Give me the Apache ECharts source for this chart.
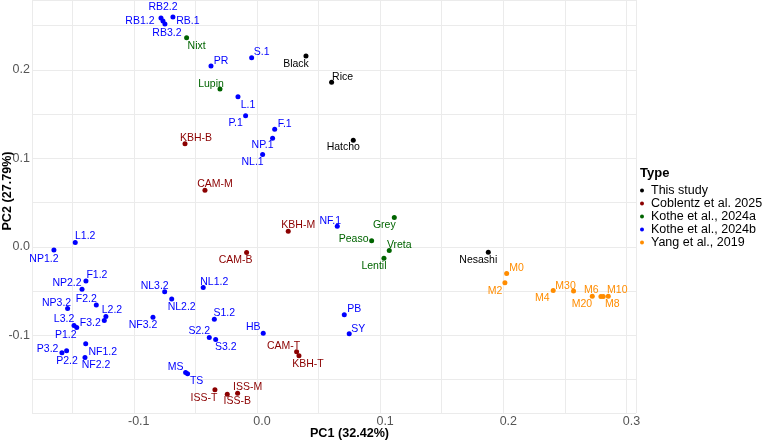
<!DOCTYPE html>
<html>
<head>
<meta charset="utf-8">
<script src="https://cdn.jsdelivr.net/npm/echarts@6/dist/echarts.min.js"></script>
<style>
  html, body { margin: 0; padding: 0; background: #fff; }
  #chart { width: 767px; height: 443px; }
</style>
</head>
<body>
<div id="chart"></div>
<script>
// groups (legend order)
const groups = ['This study', 'Coblentz et al. 2025', 'Kothe et al., 2024a', 'Kothe et al., 2024b', 'Yang et al., 2019']

// samples
const sampleNames = [
    'Black', 'Rice', 'Hatcho', 'Nesashi',
    'KBH-B', 'CAM-M', 'KBH-M', 'CAM-B', 'CAM-T', 'KBH-T', 'ISS-T', 'ISS-B', 'ISS-M',
    'Nixt', 'Lupin', 'Grey', 'Peaso', 'Vreta', 'Lentil',
    'RB2.2', 'RB1.2', 'RB3.2', 'RB.1', 'PR', 'S.1', 'L.1', 'P.1', 'F.1', 'NP.1', 'NL.1', 'NF.1',
    'L1.2', 'NP1.2', 'F1.2', 'NP2.2', 'NL1.2', 'NL3.2', 'NL2.2', 'F2.2', 'NP3.2', 'L2.2', 'F3.2',
    'L3.2', 'P1.2', 'NF3.2', 'S1.2', 'HB', 'S2.2', 'S3.2', 'NF1.2', 'P3.2', 'P2.2', 'NF2.2',
    'MS', 'TS', 'PB', 'SY',
    'M0', 'M2', 'M4', 'M30', 'M6', 'M20', 'M8', 'M10'
]
const sampleGroup = [
    0, 0, 0, 0,
    1, 1, 1, 1, 1, 1, 1, 1, 1,
    2, 2, 2, 2, 2, 2,
    3, 3, 3, 3, 3, 3, 3, 3, 3, 3, 3, 3,
    3, 3, 3, 3, 3, 3, 3, 3, 3, 3, 3,
    3, 3, 3, 3, 3, 3, 3, 3, 3, 3, 3,
    3, 3, 3, 3,
    4, 4, 4, 4, 4, 4, 4, 4
]
const pc1 = [
    0.0398, 0.0606, 0.0782, 0.1878,
    -0.0584, -0.0422, 0.0254, -0.0084, 0.0322, 0.0341, -0.0341, -0.0241, -0.0157,
    -0.0571, -0.0300, 0.1115, 0.0931, 0.1074, 0.1031,
    -0.0779, -0.0763, -0.0747, -0.0682, -0.0373, -0.0043, -0.0154, -0.0092, 0.0144, 0.0127, 0.0046, 0.0652,
    -0.1475, -0.1648, -0.1388, -0.1420, -0.0436, -0.0749, -0.0692, -0.1304, -0.1537, -0.1226, -0.1239,
    -0.1485, -0.1463, -0.0844, -0.0346, 0.0051, -0.0387, -0.0335, -0.1390, -0.1545, -0.1583, -0.1396,
    -0.0579, -0.0563, 0.0709, 0.0749,
    0.2027, 0.2013, 0.2405, 0.2570, 0.2722, 0.2792, 0.2811, 0.2852
]
const pc2 = [
    0.2156, 0.1859, 0.1204, -0.0060,
    0.1166, 0.0640, 0.0177, -0.0064, -0.1185, -0.1230, -0.1614, -0.1663, -0.1652,
    0.2363, 0.1783, 0.0331, 0.0068, -0.0041, -0.0128,
    0.2585, 0.2551, 0.2517, 0.2596, 0.2043, 0.2137, 0.1696, 0.1482, 0.1328, 0.1227, 0.1042, 0.0233,
    0.0049, -0.0034, -0.0384, -0.0478, -0.0459, -0.0508, -0.0590, -0.0655, -0.0696, -0.0786, -0.0832,
    -0.0888, -0.0911, -0.0794, -0.0816, -0.0974, -0.1023, -0.1046, -0.1095, -0.1174, -0.1196, -0.1249,
    -0.1418, -0.1433, -0.0767, -0.0982,
    -0.0301, -0.0406, -0.0493, -0.0497, -0.0557, -0.0561, -0.0561, -0.0557
]

// styling
const groupColors = ['#000000', '#8B0000', '#006400', '#0000FF', '#FF8C00']
const FONT = 'Liberation Sans, Arial, sans-serif'

// where each text label sits relative to its point (px), like the repelled labels
const labelNudge = {
    'Black': [-10, 8], 'Rice': [11, -5], 'Hatcho': [-10, 7], 'Nesashi': [-10, 8],
    'KBH-B': [11, -6], 'CAM-M': [10, -6], 'KBH-M': [10, -6], 'CAM-B': [-11, 8],
    'CAM-T': [-13, -6], 'KBH-T': [9, 8], 'ISS-T': [-11, 8], 'ISS-B': [10, 7], 'ISS-M': [10, -6],
    'Nixt': [10, 8], 'Lupin': [-9, -5], 'Grey': [-10, 8], 'Peaso': [-18, -2], 'Vreta': [10, -5], 'Lentil': [-10, 8],
    'RB2.2': [2, -11], 'RB1.2': [-23, 0], 'RB3.2': [2, 9], 'RB.1': [15, 4], 'PR': [10, -5], 'S.1': [10, -6],
    'L.1': [10, 8], 'P.1': [-10, 7], 'F.1': [10, -5], 'NP.1': [-10, 7], 'NL.1': [-10, 8], 'NF.1': [-7, -5],
    'L1.2': [10, -6], 'NP1.2': [-10, 9], 'F1.2': [11, -6], 'NP2.2': [-15, -6], 'NL1.2': [11, -5],
    'NL3.2': [-10, -6], 'NL2.2': [10, 8], 'F2.2': [-10, -6], 'NP3.2': [-11, -5], 'L2.2': [6, -6], 'F3.2': [-14, 3],
    'L3.2': [-10, -6], 'P1.2': [-11, 8], 'NF3.2': [-10, 8], 'S1.2': [10, -6], 'HB': [-10, -6], 'S2.2': [-10, -6],
    'S3.2': [10, 8], 'NF1.2': [17, 8], 'P3.2': [-19, -2], 'P2.2': [5, 8], 'NF2.2': [11, 8],
    'MS': [-10, -5], 'TS': [9, 7], 'PB': [10, -6], 'SY': [9, -5],
    'M0': [10, -5], 'M2': [-10, 8], 'M4': [-11, 8], 'M30': [-8, -5], 'M6': [-1, -6],
    'M20': [-19, 8], 'M8': [9, 8], 'M10': [9, -6]
}

function isMajor(v) {
    return Math.abs(Math.round(v * 10) - v * 10) < 1e-6
}

function buildSeries() {
    let series = []
    for (let g = 0; g < groups.length; g++) {
        let data = []
        for (let i = 0; i < sampleNames.length; i++) {
            if (sampleGroup[i] != g) continue
            data.push({
                name: sampleNames[i],
                value: [pc1[i], pc2[i]],
                label: { offset: labelNudge[sampleNames[i]] || [10, -6] }
            })
        }
        series.push({
            name: groups[g],
            type: 'scatter',
            symbol: 'circle',
            symbolSize: 5,
            itemStyle: { color: groupColors[g], opacity: 1 },
            label: {
                show: true,
                position: 'inside',
                formatter: '{b}',
                color: groupColors[g],
                fontFamily: FONT,
                fontSize: 10.5,
                align: 'center',
                verticalAlign: 'middle'
            },
            emphasis: { disabled: true },
            data: data
        })
    }
    return series
}

function chart() {
    var dom = document.getElementById('chart');
    var myChart = echarts.init(dom, null, { renderer: 'canvas' });
    var option;

    option = {
        animation: false,
        backgroundColor: '#ffffff',
        title: {
            text: 'Type',
            left: 640,
            top: 167,
            padding: 0,
            textStyle: { fontFamily: FONT, fontSize: 13, fontWeight: 'bold', color: '#000' }
        },
        legend: {
            data: groups,
            orient: 'vertical',
            left: 640,
            top: 184,
            padding: 0,
            itemGap: 0,
            itemWidth: 8,
            itemHeight: 4,
            icon: 'circle',
            selectedMode: false,
            textStyle: { fontFamily: FONT, fontSize: 12.5, lineHeight: 11.7, color: '#000' }
        },
        grid: {
            left: 32,
            right: 131,
            top: 0,
            bottom: 30,
            containLabel: false,
            outerBoundsMode: 'none'
        },
        xAxis: {
            type: 'value',
            min: -0.1826,
            max: 0.3077,
            splitNumber: 10,
            name: 'PC1 (32.42%)',
            nameLocation: 'middle',
            nameGap: 14,
            nameMoveOverlap: false,
            nameTextStyle: { fontFamily: FONT, fontSize: 12.6, fontWeight: 'bold', color: '#000', padding: [0, 0, 0, 31] },
            axisLine: { show: false },
            axisTick: { show: false },
            axisLabel: {
                margin: 2,
                showMinLabel: false,
                showMaxLabel: false,
                fontFamily: FONT,
                fontSize: 12.5,
                color: '#555555',
                padding: [0, 0, 0, 10],
                formatter: function (v) { return isMajor(v) ? v.toFixed(1) : '' }
            },
            splitLine: { show: true, lineStyle: { color: '#ebebeb', width: 1 } }
        },
        yAxis: {
            type: 'value',
            min: -0.1876,
            max: 0.2788,
            splitNumber: 9,
            name: 'PC2 (27.79%)',
            nameLocation: 'middle',
            nameGap: 18,
            nameMoveOverlap: false,
            nameTextStyle: { fontFamily: FONT, fontSize: 12.6, fontWeight: 'bold', color: '#000', padding: [0, 0, 0, 31] },
            axisLine: { show: false },
            axisTick: { show: false },
            axisLabel: {
                margin: 2,
                showMinLabel: false,
                showMaxLabel: false,
                fontFamily: FONT,
                fontSize: 12.5,
                color: '#555555',
                formatter: function (v) { return isMajor(v) ? v.toFixed(1) : '' }
            },
            splitLine: { show: true, lineStyle: { color: '#ebebeb', width: 1 } }
        },
        series: buildSeries()
    };

    option && myChart.setOption(option);
    window.addEventListener('resize', myChart.resize);
}

chart()
</script>
</body>
</html>
